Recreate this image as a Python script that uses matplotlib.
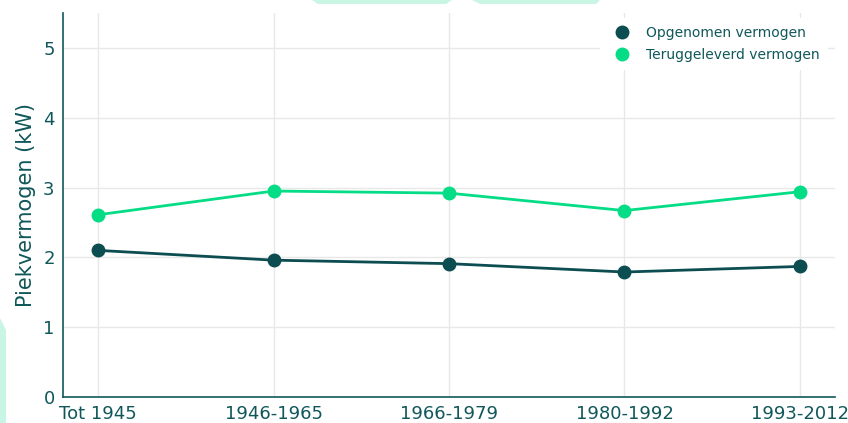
import matplotlib
matplotlib.use("Agg")
import matplotlib.pyplot as plt
from matplotlib.patches import Polygon
from matplotlib.lines import Line2D

categories = ["Tot 1945", "1946-1965", "1966-1979", "1980-1992", "1993-2012"]
opgenomen = [2.10, 1.96, 1.91, 1.79, 1.87]
teruggeleverd = [2.61, 2.95, 2.92, 2.67, 2.94]
series_names = ["Opgenomen vermogen", "Teruggeleverd vermogen"]
y_ticks = [0, 1, 2, 3, 4, 5]

dark = "#0b4d50"
green = "#05dc86"
text_c = "#10575a"
mint = "#c9f5e4"

fig = plt.figure(figsize=(8.48, 4.23), dpi=100)
W, H = 848, 423


def fpoly(pts):
    fig.patches.append(Polygon([(px / W, 1 - py / H) for px, py in pts], closed=True,
                               transform=fig.transFigure, facecolor=mint,
                               edgecolor="none", zorder=0))


# decorative background shapes
fpoly([(312, 0), (452, 0), (446, 4), (318, 4)])
fpoly([(472, 0), (600, 0), (596, 4), (480, 4)])
fpoly([(0, 318), (6, 330), (6, 423), (0, 423)])

ax = fig.add_axes([63 / W, 1 - 397 / H, (835 - 63) / W, (397 - 13) / H])
ax.set_facecolor("none")
x = list(range(len(categories)))
ax.plot(x, opgenomen, color=dark, lw=2, marker="o", ms=9, label=series_names[0], zorder=3)
ax.plot(x, teruggeleverd, color=green, lw=2, marker="o", ms=9, label=series_names[1], zorder=3)

ax.set_xlim(-0.2, 4.2)
ax.set_ylim(0, 5.5)
ax.set_xticks(x)
ax.set_xticklabels(categories)
ax.set_yticks(y_ticks)
ax.grid(True, color="#e8e8e8", lw=1)
ax.set_axisbelow(True)
for s in ["top", "right"]:
    ax.spines[s].set_visible(False)
for s in ["left", "bottom"]:
    ax.spines[s].set_color(text_c)
    ax.spines[s].set_linewidth(1.2)
ax.tick_params(axis="both", length=0, labelsize=13, colors=text_c, pad=6)
ax.set_ylabel("Piekvermogen (kW)", fontsize=15, color=text_c, labelpad=5)

handles = [Line2D([], [], ls="none", marker="o", ms=9, color=dark),
           Line2D([], [], ls="none", marker="o", ms=9, color=green)]
leg = ax.legend(handles, series_names, loc="upper right", bbox_to_anchor=(1.0, 1.005),
                frameon=True, fontsize=10, labelcolor=text_c, handletextpad=0.7,
                borderpad=0.6, labelspacing=0.55)
leg.get_frame().set_facecolor("white")
leg.get_frame().set_edgecolor("none")
leg.get_frame().set_alpha(1)

fig.savefig("out.png", dpi=100)
